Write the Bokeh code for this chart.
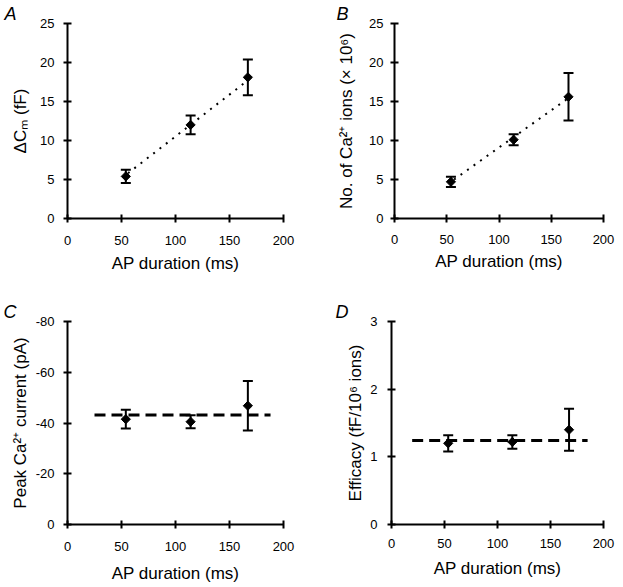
from bokeh.plotting import figure
from bokeh.models import Range1d, FixedTicker
from bokeh.layouts import column, row
from bokeh.embed import file_html
from bokeh.resources import INLINE

# ---------------- data ----------------
x_ticks = [0, 50, 100, 150, 200]

# Panel A: delta Cm
a_x = [54, 114, 167]
a_mean = [5.4, 12.0, 18.1]
a_err = [0.85, 1.2, 2.3]
a_fit_x = [56, 165]
a_fit_y = [5.8, 17.5]
a_ticks = [0, 5, 10, 15, 20, 25]

# Panel B: number of Ca2+ ions (x 10^6)
b_x = [54, 114, 166.5]
b_mean = [4.7, 10.1, 15.6]
b_err = [0.65, 0.7, 3.05]
b_fit_x = [57, 165]
b_fit_y = [5.0, 15.3]
b_ticks = [0, 5, 10, 15, 20, 25]

# Panel C: peak Ca2+ current (pA)
c_x = [54, 114, 167]
c_mean = [-41.5, -40.5, -46.8]
c_err = [3.7, 2.6, 9.8]
c_line_x = [25, 188]
c_line_y = [-43.2, -43.2]
c_ticks = [-80, -60, -40, -20, 0]

# Panel D: efficacy (fF / 10^6 ions)
d_x = [53.5, 114, 167.5]
d_mean = [1.2, 1.22, 1.4]
d_err = [0.12, 0.1, 0.31]
d_line_x = [19.5, 185]
d_line_y = [1.24, 1.24]
d_ticks = [0, 1, 2, 3]

FONT = "Liberation Sans"


def make_panel(width, height, bl, br, bt, bb, yr, yticks, ylabel,
               y_lab_standoff, y_tick_standoff, x_tick_standoff, x_lab_standoff,
               x, mean, err, lx, ly, ldash, lwidth, letter, letter_offset):
    p = figure(width=width, height=height, x_range=Range1d(0, 200),
               y_range=Range1d(*yr), output_backend="svg", toolbar_location=None,
               min_border_left=bl, min_border_right=br, min_border_top=bt,
               min_border_bottom=bb)
    p.outline_line_color = None
    p.grid.visible = False
    for ax in (p.xaxis[0], p.yaxis[0]):
        ax.axis_line_width = 2
        ax.axis_line_color = "black"
        ax.major_tick_line_width = 2
        ax.major_tick_line_color = "black"
        ax.major_tick_in = 4
        ax.major_tick_out = 4
        ax.minor_tick_line_color = None
        ax.major_label_text_font = FONT
        ax.major_label_text_font_size = "13px"
        ax.major_label_text_color = "black"
        ax.axis_label_text_font = FONT
        ax.axis_label_text_font_size = "17px"
        ax.axis_label_text_font_style = "normal"
        ax.axis_label_text_color = "black"
    p.xaxis.ticker = FixedTicker(ticks=x_ticks)
    p.yaxis.ticker = FixedTicker(ticks=yticks)
    p.xaxis.major_label_overrides = {t: str(t) for t in x_ticks}
    p.yaxis.major_label_overrides = {t: str(t) for t in yticks}
    p.xaxis.axis_label = "AP duration (ms)"
    p.yaxis.axis_label = ylabel
    p.yaxis.axis_label_standoff = y_lab_standoff
    p.yaxis.major_label_standoff = y_tick_standoff
    p.xaxis.major_label_standoff = x_tick_standoff
    p.xaxis.axis_label_standoff = x_lab_standoff

    # panel letter as left-aligned title
    p.title.text = letter
    p.title.align = "left"
    p.title.offset = letter_offset
    p.title.standoff = 0
    p.title.text_font = FONT
    p.title.text_font_style = "italic"
    p.title.text_font_size = "18px"
    p.title.text_color = "black"

    lo = [m - e for m, e in zip(mean, err)]
    hi = [m + e for m, e in zip(mean, err)]
    p.line(lx, ly, line_dash=ldash, line_width=lwidth, color="black")
    p.segment(x, lo, x, hi, line_width=2, color="black")
    p.scatter(x, lo, marker="dash", size=10, line_width=2, color="black")
    p.scatter(x, hi, marker="dash", size=10, line_width=2, color="black")
    p.scatter(x, mean, marker="square", angle=0.785, size=6.5, color="black")
    return p


pa = make_panel(311, 293, 67, 28, 23, 75, (0, 25), a_ticks, "ΔCₘ (fF)",
                7, 9, 13, 6, a_x, a_mean, a_err, a_fit_x, a_fit_y, "2 6", 2,
                "A", -63)

pb = make_panel(308, 293, 83, 16, 23, 73, (0, 25), b_ticks,
                "No. of Ca²⁺ ions (× 10⁶)",
                10, 7, 12, 5, b_x, b_mean, b_err, b_fit_x, b_fit_y, "2 6", 2,
                "B", -58)

pc = make_panel(311, 292, 67, 28, 28, 60, (0, -80), c_ticks,
                "Peak Ca²⁺ current (pA)",
                3, 9, 13, 10, c_x, c_mean, c_err, c_line_x, c_line_y, "11 6", 3,
                "C", -64)

pd = make_panel(308, 292, 80, 16, 28, 60, (0, 3), d_ticks,
                "Efficacy (fF/10⁶ ions)",
                2, 10, 10, 8, d_x, d_mean, d_err, d_line_x, d_line_y, "11 6", 3,
                "D", -56)

layout = column(row(pa, pb), row(pc, pd))
open("out.html", "w").write(file_html(layout, INLINE))
